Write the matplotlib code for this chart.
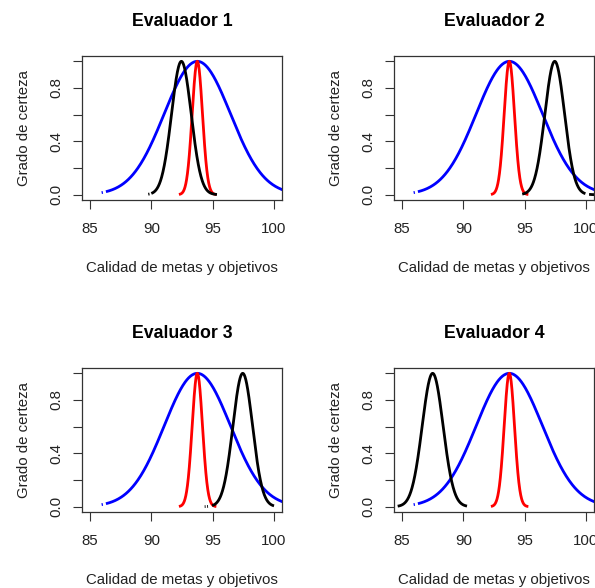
import numpy as np
import matplotlib
matplotlib.use("Agg")
import matplotlib.pyplot as plt

plt.rcParams['font.family'] = ['Liberation Sans', 'DejaVu Sans']

titles = ["Evaluador 1", "Evaluador 2", "Evaluador 3", "Evaluador 4"]
xlabel = "Calidad de metas y objetivos"
ylabel = "Grado de certeza"
x_ticks = [85, 90, 95, 100]
y_ticks = [0.0, 0.2, 0.4, 0.6, 0.8, 1.0]
y_ticklabels = ["0.0", "", "0.4", "", "0.8", ""]

# Gaussian membership curves: mean, sd, and the x segments where points are drawn
blue_mean, blue_sd = 93.75, 2.7
blue_segments = [(85.95, 86.05), (86.3, 100.7)]
red_mean, red_sd = 93.75, 0.42
red_segments = [(92.25, 95.3)]
black_means = [92.45, 97.45, 97.45, 87.5]
black_sds = [0.8, 0.8, 0.8, 0.85]
black_segments = [
    [(89.75, 89.85), (90.0, 95.35)],
    [(94.8, 99.95), (100.25, 100.7)],
    [(94.35, 94.42), (94.55, 94.62), (94.95, 100.0)],
    [(84.65, 90.3)],
]

W, H = 595, 588
fig = plt.figure(figsize=(W / 100, H / 100), dpi=100)

# axes boxes in pixels: left, top, right, bottom
boxes = [(82, 56, 282, 200), (394, 56, 594, 200),
         (82, 368, 282, 512), (394, 368, 594, 512)]


def curve(ax, m, s, segs, color):
    for lo, hi in segs:
        x = np.linspace(lo, hi, 300)
        y = np.exp(-0.5 * ((x - m) / s) ** 2)
        ax.plot(x, y, color=color, lw=2.0, solid_capstyle='butt')


for i, (l, t, r, b) in enumerate(boxes):
    ax = fig.add_axes([l / W, (H - b) / H, (r - l) / W, (b - t) / H])
    curve(ax, blue_mean, blue_sd, blue_segments, '#0000FF')
    curve(ax, red_mean, red_sd, red_segments, '#FF0000')
    curve(ax, black_means[i], black_sds[i], black_segments[i], 'black')
    ax.set_xlim(84.35, 100.65)
    ax.set_ylim(-0.04, 1.04)
    ax.set_xticks(x_ticks)
    ax.set_xticklabels([str(v) for v in x_ticks])
    ax.set_yticks(y_ticks)
    ax.set_yticklabels(y_ticklabels)
    ax.tick_params(axis='both', length=6.5, width=0.8, labelsize=10.8,
                   color='#333333', labelcolor='#222222')
    ax.tick_params(axis='x', pad=9)
    ax.tick_params(axis='y', pad=7, labelrotation=90)
    for lab in ax.get_yticklabels():
        lab.set_verticalalignment('center')
    for sp in ax.spines.values():
        sp.set_linewidth(0.9)
        sp.set_color('#333333')
    ax.set_title(titles[i], fontsize=12.8, fontweight='bold', pad=21.5)
    ax.set_xlabel(xlabel, fontsize=10.8, labelpad=18, color='#222222')
    ax.set_ylabel(ylabel, fontsize=10.8, labelpad=13, color='#222222')

fig.savefig("out.png", dpi=100)
